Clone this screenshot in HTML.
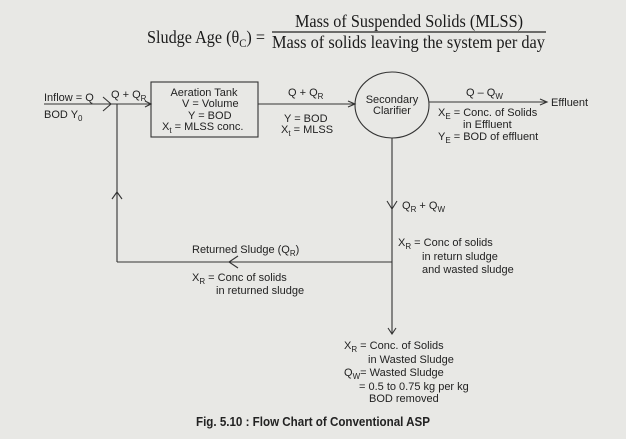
<!DOCTYPE html>
<html><head><meta charset="utf-8"><style>
html,body{margin:0;padding:0;background:#e8e8e5;}
svg{display:block}
text{font-family:"Liberation Sans",sans-serif;font-size:11px;fill:#222}
.s{font-family:"Liberation Serif",serif;font-size:18px;fill:#1a1a1a}
.sub{font-size:8px}
</style></head><body>
<svg width="626" height="439" viewBox="0 0 626 439" xmlns="http://www.w3.org/2000/svg">
<rect width="626" height="439" fill="#e8e8e5"/>
<g stroke="#333" stroke-width="1.1" fill="none">
<line x1="44" y1="104" x2="151" y2="104"/>
<polyline points="103,97 111,104 103,111"/>
<polyline points="145,101 151,104 145,107"/>
<rect x="151" y="82" width="107" height="55"/>
<line x1="258" y1="104" x2="355" y2="104"/>
<polyline points="348,101 355,104 348,107"/>
<ellipse cx="392" cy="105" rx="37" ry="33"/>
<line x1="429" y1="102" x2="547" y2="102"/>
<polyline points="540,99 547,102 540,105"/>
<line x1="117" y1="104" x2="117" y2="262"/>
<polyline points="112,199 117,192 122,199"/>
<line x1="117" y1="262" x2="392" y2="262"/>
<polyline points="238,256 229,262 238,268"/>
<line x1="392" y1="138" x2="392" y2="334"/>
<polyline points="387,201 392,209 397,201"/>
<polyline points="388,328 392,334 396,328"/>
<line x1="272" y1="32" x2="546" y2="32" stroke="#222" stroke-width="1.3"/>
</g>
<text class="s" x="147" y="43" textLength="118" lengthAdjust="spacingAndGlyphs">Sludge Age (θ<tspan font-size="12" dy="4">C</tspan><tspan dy="-4">) =</tspan></text>
<text class="s" x="295" y="27" textLength="228" lengthAdjust="spacingAndGlyphs">Mass of Suspended Solids (MLSS)</text>
<text class="s" x="272" y="48" textLength="273" lengthAdjust="spacingAndGlyphs">Mass of solids leaving the system per day</text>

<text x="44" y="101">Inflow = Q</text>
<text x="44" y="118">BOD   Y<tspan class="sub" dy="3">0</tspan></text>
<text x="111" y="98">Q + Q<tspan class="sub" dy="3">R</tspan></text>
<text x="204" y="96" text-anchor="middle">Aeration Tank</text>
<text x="182" y="107">V = Volume</text>
<text x="188" y="119">Y = BOD</text>
<text x="162" y="130">X<tspan class="sub" dy="3">t</tspan><tspan dy="-3"> = MLSS conc.</tspan></text>
<text x="288" y="96">Q + Q<tspan class="sub" dy="3">R</tspan></text>
<text x="284" y="122">Y = BOD</text>
<text x="281" y="133">X<tspan class="sub" dy="3">t</tspan><tspan dy="-3"> = MLSS</tspan></text>
<text x="392" y="103" text-anchor="middle">Secondary</text>
<text x="392" y="114" text-anchor="middle">Clarifier</text>
<text x="466" y="96">Q – Q<tspan class="sub" dy="3">W</tspan></text>
<text x="551" y="106">Effluent</text>
<text x="438" y="116">X<tspan class="sub" dy="3">E</tspan><tspan dy="-3">  = Conc. of Solids</tspan></text>
<text x="463" y="128">in Effluent</text>
<text x="438" y="140">Y<tspan class="sub" dy="3">E</tspan><tspan dy="-3">  = BOD of effluent</tspan></text>
<text x="402" y="209">Q<tspan class="sub" dy="3">R</tspan><tspan dy="-3"> + Q</tspan><tspan class="sub" dy="3">W</tspan></text>
<text x="398" y="246">X<tspan class="sub" dy="3">R</tspan><tspan dy="-3"> = Conc of solids</tspan></text>
<text x="422" y="260">in return sludge</text>
<text x="422" y="273">and wasted sludge</text>
<text x="192" y="253">Returned Sludge (Q<tspan class="sub" dy="3">R</tspan><tspan dy="-3">)</tspan></text>
<text x="192" y="281">X<tspan class="sub" dy="3">R</tspan><tspan dy="-3"> = Conc of solids</tspan></text>
<text x="216" y="294">in returned sludge</text>
<text x="344" y="349">X<tspan class="sub" dy="3">R</tspan><tspan dy="-3"> = Conc. of Solids</tspan></text>
<text x="368" y="363">in Wasted Sludge</text>
<text x="344" y="376">Q<tspan class="sub" dy="3">W</tspan><tspan dy="-3">= Wasted Sludge</tspan></text>
<text x="359" y="390">= 0.5 to 0.75 kg per kg</text>
<text x="369" y="402">BOD removed</text>
<text x="196" y="426" textLength="234" lengthAdjust="spacingAndGlyphs" style="font-weight:bold;font-size:12.5px">Fig. 5.10 : Flow Chart of Conventional ASP</text>
</svg>
</body></html>
